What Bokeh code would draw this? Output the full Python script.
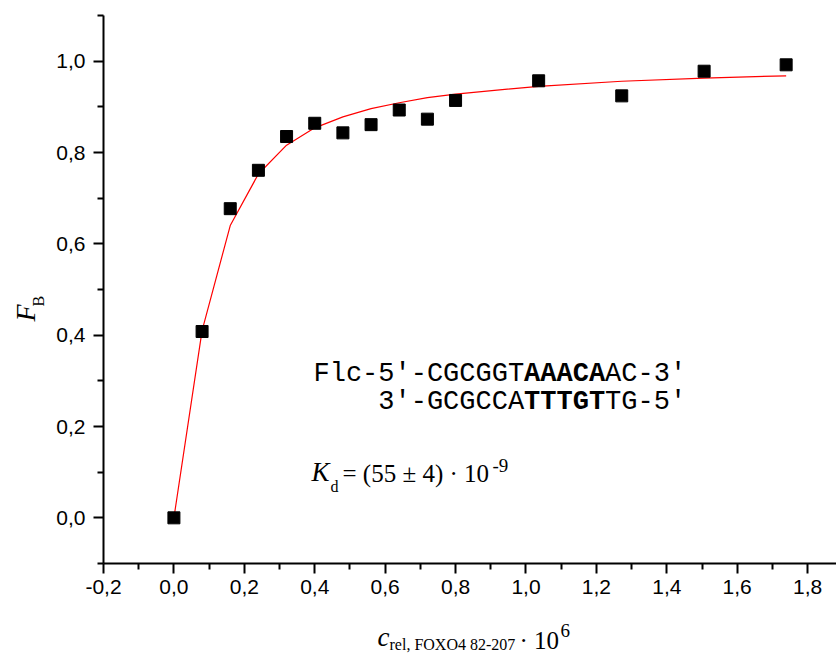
import math
from bokeh.plotting import figure
from bokeh.models import Range1d, FixedTicker, CustomJSTickFormatter, Label, ColumnDataSource
from bokeh.embed import file_html
from bokeh.resources import INLINE

# ---- data ----
conc = [0.0, 0.08, 0.16, 0.24, 0.32, 0.40, 0.48, 0.56, 0.64, 0.72, 0.80, 1.036, 1.272, 1.506, 1.739]
fb_measured = [0.0, 0.408, 0.677, 0.761, 0.835, 0.864, 0.843, 0.861, 0.893, 0.873, 0.914, 0.957, 0.924, 0.978, 0.992]
fb_fit = [0.0, 0.41, 0.64, 0.753, 0.816, 0.854, 0.878, 0.896, 0.909, 0.92, 0.928, 0.945, 0.956, 0.963, 0.968]

x_ticks = [-0.2, 0.0, 0.2, 0.4, 0.6, 0.8, 1.0, 1.2, 1.4, 1.6, 1.8]
x_minor = [-0.1, 0.1, 0.3, 0.5, 0.7, 0.9, 1.1, 1.3, 1.5, 1.7]
y_ticks = [0.0, 0.2, 0.4, 0.6, 0.8, 1.0]
y_minor = [-0.1, 0.1, 0.3, 0.5, 0.7, 0.9, 1.1]

seq_top = [("Flc-5'-CGCGGT", "normal"), ("AAACA", "bold"), ("AC-3'", "normal")]
seq_bottom = [("3'-GCGCCA", "normal"), ("TTTGT", "bold"), ("TG-5'", "normal")]

# ---- layout (axes box in canvas pixels) ----
W, H = 836, 659
AX_X0, AX_X1 = -0.2, 1.882     # axis extent (data)
AX_Y0, AX_Y1 = -0.1, 1.1
BOX_L, BOX_R, BOX_T, BOX_B = 103, 836, 15, 563
SX = (BOX_R - BOX_L) / (AX_X1 - AX_X0)
SY = (BOX_B - BOX_T) / (AX_Y1 - AX_Y0)
XR0 = AX_X0 - BOX_L / SX
XR1 = AX_X0 + (W - BOX_L) / SX
YR0 = AX_Y0 - (H - BOX_B) / SY
YR1 = AX_Y1 + BOX_T / SY
BASE_FIX = 0.3   # empirical baseline correction (fraction of font size)


def dx(px):
    return XR0 + px / SX


def dy(py):
    return YR0 + (H - py) / SY


p = figure(width=W, height=H, output_backend="svg", toolbar_location=None,
           x_range=Range1d(XR0, XR1), y_range=Range1d(YR0, YR1),
           min_border=0, min_border_left=0, min_border_right=0,
           min_border_top=0, min_border_bottom=0)
p.outline_line_color = None
p.xgrid.visible = False
p.ygrid.visible = False
p.background_fill_color = "white"
p.border_fill_color = "white"

fmt = CustomJSTickFormatter(code="return tick.toFixed(1).replace('.', ',');")
for ax, ticks, minor, loc, bounds, standoff in (
        (p.xaxis[0], x_ticks, x_minor, AX_Y0, (AX_X0, AX_X1), 6),
        (p.yaxis[0], y_ticks, y_minor, AX_X0, (AX_Y0, AX_Y1), 8)):
    ax.fixed_location = loc
    ax.bounds = bounds
    ax.ticker = FixedTicker(ticks=ticks, minor_ticks=minor)
    ax.formatter = fmt
    ax.axis_line_width = 2
    ax.axis_line_color = "black"
    ax.major_tick_line_width = 2
    ax.minor_tick_line_width = 2
    ax.major_tick_line_color = "black"
    ax.minor_tick_line_color = "black"
    ax.major_tick_out = 10
    ax.major_tick_in = 0
    ax.minor_tick_out = 6
    ax.minor_tick_in = 0
    ax.major_label_text_font = "Liberation Sans"
    ax.major_label_text_font_size = "21px"
    ax.major_label_text_color = "black"
    ax.major_label_standoff = standoff

src = ColumnDataSource(dict(x=conc, y=fb_measured, fit=fb_fit))
p.line("x", "fit", source=src, line_color="#ff0000", line_width=1.2)
p.scatter("x", "y", source=src, marker="square", size=12, fill_color="black", line_color="black")


def add_label(text, px, py, font, size, style="normal", rotated=False):
    if rotated:
        px, angle = px - BASE_FIX * size, math.pi / 2
    else:
        py, angle = py - BASE_FIX * size, 0.0
    p.add_layout(Label(x=dx(px), y=dy(py), text=text, text_font=font,
                       text_font_size=f"{size}px", text_font_style=style,
                       text_color="black", text_baseline="alphabetic",
                       text_align="left", angle=angle))


# sequence annotation (monospace)
MONO = 27
pitch = 0.6 * MONO
x0 = 313
off = 0
for seg, st in seq_top:
    add_label(seg, x0 + off * pitch, 382, "Liberation Mono", MONO, st)
    off += len(seg)
off = 4
for seg, st in seq_bottom:
    add_label(seg, x0 + off * pitch, 410, "Liberation Mono", MONO, st)
    off += len(seg)

# Kd annotation
add_label("K", 311, 480, "Liberation Serif", 27, "italic")
add_label("d", 330, 491, "Liberation Serif", 16)
add_label("= (55 ± 4) · 10", 342, 480, "Liberation Serif", 25)
add_label("-9", 492, 471, "Liberation Serif", 19)

# x axis label
add_label("c", 377, 645, "Liberation Serif", 27, "italic")
add_label("rel, FOXO4 82-207", 389, 649, "Liberation Serif", 16)
add_label("· 10", 519, 647, "Liberation Serif", 25)
add_label("6", 560, 636, "Liberation Serif", 19)

# y axis label (rotated, reading upwards)
add_label("F", 33, 321, "Liberation Serif", 28, "italic", rotated=True)
add_label("B", 43, 306, "Liberation Serif", 16, rotated=True)

open("out.html", "w").write(file_html(p, INLINE))
